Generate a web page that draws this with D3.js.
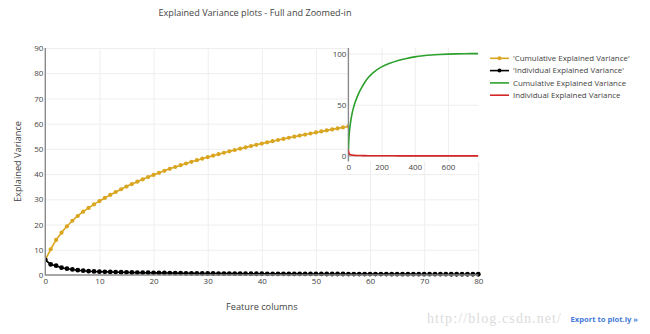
<!DOCTYPE html>
<html>
<head>
<meta charset="utf-8">
<script src="https://cdn.jsdelivr.net/npm/d3@7/dist/d3.min.js"></script>
<style>
  html, body { margin: 0; padding: 0; background: #fff; }
  svg { display: block; }
  text { font-family: "Open Sans", "DejaVu Sans", sans-serif; fill: #444; }
</style>
</head>
<body>
<svg id="chart" width="650" height="334"></svg>
<script>
// Explained variance of the first 81 principal components (percent)
const individualVariance = [
  6.0, 4.2, 3.7, 2.9, 2.5, 2.2, 1.9, 1.7, 1.5, 1.4,
  1.3, 1.25, 1.2, 1.15, 1.1, 1.05, 1.0, 0.96, 0.92, 0.89,
  0.86, 0.83, 0.80, 0.77, 0.74, 0.71, 0.68, 0.66, 0.64, 0.62,
  0.60, 0.59, 0.58, 0.57, 0.55, 0.54, 0.53, 0.52, 0.51, 0.50,
  0.49, 0.48, 0.47, 0.46, 0.45, 0.44, 0.43, 0.43, 0.42, 0.42,
  0.41, 0.41, 0.40, 0.40, 0.39, 0.39, 0.38, 0.38, 0.37, 0.37,
  0.36, 0.36, 0.35, 0.35, 0.34, 0.34, 0.33, 0.33, 0.33, 0.32,
  0.32, 0.32, 0.31, 0.31, 0.31, 0.30, 0.30, 0.30, 0.29, 0.29,
  0.29
];
const cumulativeVariance = [
  6.0, 10.2, 13.9, 16.8, 19.3, 21.5, 23.4, 25.1, 26.6, 28.0,
  29.3, 30.55, 31.75, 32.9, 34.0, 35.05, 36.05, 37.01, 37.93, 38.82,
  39.68, 40.51, 41.31, 42.08, 42.82, 43.53, 44.21, 44.87, 45.51, 46.13,
  46.73, 47.32, 47.9, 48.47, 49.02, 49.56, 50.09, 50.61, 51.12, 51.62,
  52.11, 52.59, 53.06, 53.52, 53.97, 54.41, 54.84, 55.27, 55.69, 56.11,
  56.52, 56.93, 57.33, 57.73, 58.12, 58.51, 58.89, 59.27, 59.64, 60.01,
  60.37, 60.73, 61.08, 61.43, 61.77, 62.11, 62.44, 62.77, 63.1, 63.42,
  63.74, 64.06, 64.37, 64.68, 64.99, 65.29, 65.59, 65.89, 66.18, 66.47,
  66.76
];

// Whole 784-column picture, sampled along the curves (inset)
const fullColumns = [
  0, 1, 2, 3, 4, 5, 6, 7, 8, 9, 10, 15, 20, 25, 30, 35, 40, 50, 60, 70, 80,
  100, 120, 150, 200, 250, 300, 350, 400, 450, 500, 550, 600, 650, 700, 750, 783
];
const fullCumulative = [
  6.0, 10.2, 13.9, 16.8, 19.3, 21.5, 23.4, 25.1, 26.6, 28.0, 29.3, 35.05, 39.68, 43.53, 46.73, 49.56, 52.11, 56.52, 60.37, 63.74, 66.76,
  72.3, 76.6, 81.5, 87.0, 90.6, 93.3, 95.3, 96.8, 97.9, 98.7, 99.2, 99.55, 99.8, 99.93, 99.98, 100
];
const fullIndividual = [
  6.0, 4.2, 3.7, 2.9, 2.5, 2.2, 1.9, 1.7, 1.5, 1.4, 1.3, 1.05, 0.86, 0.71, 0.60, 0.54, 0.49, 0.41, 0.36, 0.32, 0.29,
  0.24, 0.19, 0.14, 0.09, 0.064, 0.047, 0.035, 0.026, 0.019, 0.013, 0.009, 0.006, 0.004, 0.002, 0.001, 0
];

const mainXTicks = [0, 10, 20, 30, 40, 50, 60, 70, 80];
const mainYTicks = [0, 10, 20, 30, 40, 50, 60, 70, 80, 90];
const insetXTicks = [0, 200, 400, 600];
const insetYTicks = [0, 50, 100];

const legendNames = [
  "'Cumulative Explained Variance'",
  "'Individual Explained Variance'",
  "Cumulative Explained Variance",
  "Individual Explained Variance"
];
const legendColors = ["#daa520", "#000000", "#2ca02c", "#d62728"];
const legendMarkers = [true, true, false, false];

const titleText = "Explained Variance plots - Full and Zoomed-in";
const xTitle = "Feature columns";
const yTitle = "Explained Variance";

// ---- layout ----
const svg = d3.select("#chart");
svg.append("rect").attr("width", 650).attr("height", 334).attr("fill", "#fff");

const M = { left: 45.3, right: 478.3, top: 48, bottom: 275 };
const I = { left: 348.4, right: 478.3, top: 48, bottom: 161.5 };

const x = d3.scaleLinear().domain([0, 80]).range([M.left, M.right]);
const y = d3.scaleLinear().domain([0, 90]).range([M.bottom, M.top]);
const xi = d3.scaleLinear().domain([0, 783]).range([I.left, I.right]);
const yi = d3.scaleLinear().domain([-5.5, 105.5]).range([I.bottom, I.top]);

const defs = svg.append("defs");
defs.append("clipPath").attr("id", "clipMain").append("rect")
  .attr("x", M.left).attr("y", M.top - 4).attr("width", M.right - M.left + 4).attr("height", M.bottom - M.top + 6);
defs.append("clipPath").attr("id", "clipInset").append("rect")
  .attr("x", I.left).attr("y", I.top).attr("width", I.right - I.left).attr("height", I.bottom - I.top);

const gridColor = "#eeeeee";
const zeroColor = "#8a8a8a";

// main grid
const gMainGrid = svg.append("g");
gMainGrid.append("g").attr("transform", `translate(0,${M.bottom})`)
  .call(d3.axisBottom(x).tickValues(mainXTicks.filter(d => d !== 0)).tickSize(-(M.bottom - M.top)).tickFormat(""))
  .call(g => g.select(".domain").remove())
  .call(g => g.selectAll("line").attr("stroke", gridColor));
gMainGrid.append("g").attr("transform", `translate(${M.left},0)`)
  .call(d3.axisLeft(y).tickValues(mainYTicks.filter(d => d !== 0)).tickSize(-(M.right - M.left)).tickFormat(""))
  .call(g => g.select(".domain").remove())
  .call(g => g.selectAll("line").attr("stroke", gridColor));

// main traces
const gMain = svg.append("g").attr("clip-path", "url(#clipMain)");
const cumLine = d3.line().x((d, i) => x(i)).y(d => y(d)).curve(d3.curveCatmullRom);
const indLine = d3.line().x((d, i) => x(i)).y(d => y(d));
gMain.append("path").datum(cumulativeVariance).attr("d", cumLine)
  .attr("fill", "none").attr("stroke", legendColors[0]).attr("stroke-width", 1.6);
gMain.selectAll("circle.cum").data(cumulativeVariance).join("circle").attr("class", "cum")
  .attr("cx", (d, i) => x(i)).attr("cy", d => y(d)).attr("r", 2.1).attr("fill", legendColors[0]);
gMain.append("path").datum(individualVariance).attr("d", indLine)
  .attr("fill", "none").attr("stroke", legendColors[1]).attr("stroke-width", 1.6);
gMain.selectAll("circle.ind").data(individualVariance).join("circle").attr("class", "ind")
  .attr("cx", (d, i) => x(i)).attr("cy", d => y(d)).attr("r", 2.4).attr("fill", legendColors[1]);

// main zero lines
svg.append("line").attr("x1", M.left).attr("x2", M.left).attr("y1", M.top).attr("y2", M.bottom + 0.5)
  .attr("stroke", zeroColor).attr("stroke-width", 1.4);
svg.append("line").attr("x1", M.left).attr("x2", M.right).attr("y1", M.bottom).attr("y2", M.bottom)
  .attr("stroke", zeroColor).attr("stroke-width", 1.4);

// main tick labels
const tickSize = 8;
svg.append("g").attr("transform", `translate(0,${M.bottom})`)
  .call(d3.axisBottom(x).tickValues(mainXTicks).tickSize(0).tickPadding(3))
  .call(g => g.select(".domain").remove())
  .call(g => g.selectAll("text").attr("font-size", tickSize).attr("fill", "#444").attr("font-family", null));
svg.append("g").attr("transform", `translate(${M.left},0)`)
  .call(d3.axisLeft(y).tickValues(mainYTicks).tickSize(0).tickPadding(2))
  .call(g => g.select(".domain").remove())
  .call(g => g.selectAll("text").attr("font-size", tickSize).attr("fill", "#444").attr("font-family", null));

// ---- inset (its background hides the main traces beneath it) ----
svg.append("rect").attr("x", I.left).attr("y", I.top - 4).attr("width", I.right - I.left + 6).attr("height", I.bottom - I.top + 4)
  .attr("fill", "#fff");
svg.append("g").attr("transform", `translate(0,${I.bottom})`)
  .call(d3.axisBottom(xi).tickValues(insetXTicks.filter(d => d !== 0)).tickSize(-(I.bottom - I.top)).tickFormat(""))
  .call(g => g.select(".domain").remove())
  .call(g => g.selectAll("line").attr("stroke", gridColor));
svg.append("g").attr("transform", `translate(${I.left},0)`)
  .call(d3.axisLeft(yi).tickValues(insetYTicks.filter(d => d !== 0)).tickSize(-(I.right - I.left)).tickFormat(""))
  .call(g => g.select(".domain").remove())
  .call(g => g.selectAll("line").attr("stroke", gridColor));

svg.append("line").attr("x1", xi(0)).attr("x2", xi(0)).attr("y1", I.top).attr("y2", I.bottom)
  .attr("stroke", zeroColor).attr("stroke-width", 1.4);
svg.append("line").attr("x1", I.left).attr("x2", I.right).attr("y1", yi(0)).attr("y2", yi(0))
  .attr("stroke", zeroColor).attr("stroke-width", 1);

const gInset = svg.append("g").attr("clip-path", "url(#clipInset)");
const fullLine = arr => d3.line().x((d, i) => xi(fullColumns[i])).y(d => yi(d)).curve(d3.curveMonotoneX)(arr);
gInset.append("path").attr("d", fullLine(fullCumulative))
  .attr("fill", "none").attr("stroke", legendColors[2]).attr("stroke-width", 1.6);
gInset.append("path").attr("d", fullLine(fullIndividual))
  .attr("fill", "none").attr("stroke", legendColors[3]).attr("stroke-width", 1.6);

svg.append("g").attr("transform", `translate(0,${I.bottom})`)
  .call(d3.axisBottom(xi).tickValues(insetXTicks).tickSize(0).tickPadding(3))
  .call(g => g.select(".domain").remove())
  .call(g => g.selectAll("text").attr("font-size", tickSize).attr("fill", "#444").attr("font-family", null));
svg.append("g").attr("transform", `translate(${I.left},0)`)
  .call(d3.axisLeft(yi).tickValues(insetYTicks).tickSize(0).tickPadding(2))
  .call(g => g.select(".domain").remove())
  .call(g => g.selectAll("text").attr("font-size", tickSize).attr("fill", "#444").attr("font-family", null));

// ---- titles ----
svg.append("text").attr("x", 255).attr("y", 16).attr("text-anchor", "middle")
  .attr("font-size", 9.1).text(titleText);
svg.append("text").attr("x", (M.left + M.right) / 2).attr("y", 310).attr("text-anchor", "middle")
  .attr("font-size", 9.2).text(xTitle);
svg.append("text").attr("transform", `translate(20.5,${(M.top + M.bottom) / 2}) rotate(-90)`)
  .attr("text-anchor", "middle").attr("font-size", 9.2).text(yTitle);

// ---- legend ----
const legend = svg.append("g");
legendNames.forEach((name, k) => {
  const ly = 58.3 + k * 12.3;
  legend.append("line").attr("x1", 490).attr("x2", 509).attr("y1", ly).attr("y2", ly)
    .attr("stroke", legendColors[k]).attr("stroke-width", 1.6);
  if (legendMarkers[k]) {
    legend.append("circle").attr("cx", 499.5).attr("cy", ly).attr("r", 2).attr("fill", legendColors[k]);
  }
  legend.append("text").attr("x", 513).attr("y", ly).attr("dy", "0.35em")
    .attr("font-size", 7.9).text(name);
});

// ---- footer ----
svg.append("text").attr("x", 427).attr("y", 323)
  .style("font-family", "'Liberation Serif', serif").style("font-size", "14px")
  .style("letter-spacing", "1.1px")
  .style("fill", "#dcdcdc").text("http://blog.csdn.net/");
svg.append("text").attr("x", 638).attr("y", 322).attr("text-anchor", "end")
  .attr("font-size", 7.6).attr("font-weight", "bold").style("fill", "#447adb").text("Export to plot.ly »");
</script>
</body>
</html>
